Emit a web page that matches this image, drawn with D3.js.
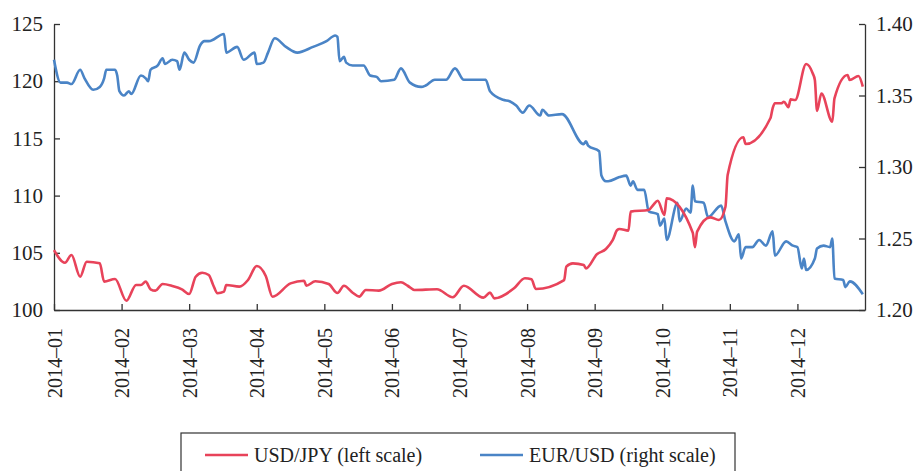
<!DOCTYPE html>
<html>
<head>
<meta charset="utf-8">
<title>USD/JPY and EUR/USD 2014</title>
<script src="https://cdn.jsdelivr.net/npm/d3@7"></script>
<style>
  body { margin: 0; background: #fff; }
  text { font-family: "Liberation Serif", "Times New Roman", serif; fill: #222; }
</style>
</head>
<body>
<script>
//////// data ////////
var monthLabels = ["2014\u201301","2014\u201302","2014\u201303","2014\u201304","2014\u201305","2014\u201306",
                   "2014\u201307","2014\u201308","2014\u201309","2014\u201310","2014\u201311","2014\u201312"];

var leftTicks = [100, 105, 110, 115, 120, 125];
var rightTicks = [1.20, 1.25, 1.30, 1.35, 1.40];

// USD/JPY, left scale
var jpyDates = ["2014-01-01","2014-01-06","2014-01-09","2014-01-13","2014-01-16","2014-01-22","2014-01-24","2014-01-29",
  "2014-02-03","2014-02-07","2014-02-09","2014-02-11","2014-02-13","2014-02-15","2014-02-18","2014-02-22","2014-02-26",
  "2014-03-01","2014-03-04","2014-03-07","2014-03-10","2014-03-12","2014-03-14","2014-03-17","2014-03-18","2014-03-24","2014-03-28",
  "2014-04-01","2014-04-05","2014-04-08","2014-04-16","2014-04-22","2014-04-23","2014-04-27",
  "2014-05-03","2014-05-07","2014-05-10","2014-05-14","2014-05-17","2014-05-20","2014-05-26",
  "2014-06-01","2014-06-05","2014-06-08","2014-06-11","2014-06-21","2014-06-28",
  "2014-07-03","2014-07-12","2014-07-15","2014-07-17","2014-07-26","2014-07-31",
  "2014-08-03","2014-08-05","2014-08-18","2014-08-19","2014-08-22","2014-08-27","2014-08-28",
  "2014-09-02","2014-09-06","2014-09-09","2014-09-11","2014-09-12","2014-09-16","2014-09-17","2014-09-25","2014-09-27","2014-09-29",
  "2014-10-02","2014-10-03","2014-10-15","2014-10-16","2014-10-17","2014-10-23","2014-10-27","2014-10-30","2014-10-31",
  "2014-11-07","2014-11-08","2014-11-19","2014-11-20","2014-11-21","2014-11-24","2014-11-25","2014-11-27","2014-11-28","2014-11-30",
  "2014-12-05","2014-12-08","2014-12-09","2014-12-10","2014-12-12","2014-12-17","2014-12-18","2014-12-24","2014-12-25","2014-12-29","2014-12-31"];
var jpyValues = [105.24,104.13,104.81,102.91,104.22,104.08,102.48,102.71,
  100.81,102.19,102.19,102.48,101.81,101.69,102.27,102.10,101.81,
  101.40,102.91,103.26,103.06,102.19,101.46,101.60,102.19,102.04,102.62,
  103.85,102.97,101.16,102.33,102.56,102.12,102.51,
  102.27,101.48,102.12,101.51,101.17,101.75,101.69,
  102.27,102.42,102.12,101.75,101.81,101.11,
  102.12,101.08,101.52,101.02,101.90,102.77,
  102.68,101.84,102.62,103.79,104.08,103.93,103.64,
  104.87,105.33,106.10,106.99,107.08,106.94,108.60,108.74,109.18,109.55,
  108.30,109.76,106.76,105.48,106.85,108.10,107.87,109.03,111.80,
  115.10,114.51,116.76,117.63,118.07,118.07,118.21,117.72,118.41,118.36,
  121.50,120.69,120.10,117.41,118.93,116.46,118.50,120.54,120.10,120.45,119.52];

// EUR/USD, right scale
var eurDates = ["2014-01-01","2014-01-04","2014-01-07","2014-01-09","2014-01-13","2014-01-15","2014-01-19","2014-01-22","2014-01-24","2014-01-25","2014-01-29","2014-01-30","2014-01-31",
  "2014-02-02","2014-02-04","2014-02-05","2014-02-09","2014-02-11","2014-02-12","2014-02-13","2014-02-16","2014-02-18","2014-02-19","2014-02-22","2014-02-24","2014-02-25","2014-02-27",
  "2014-03-01","2014-03-03","2014-03-06","2014-03-08","2014-03-10","2014-03-17","2014-03-18","2014-03-23","2014-03-26","2014-03-31",
  "2014-04-01","2014-04-04","2014-04-06","2014-04-09","2014-04-14","2014-04-19","2014-04-26",
  "2014-05-02","2014-05-06","2014-05-07","2014-05-08","2014-05-10","2014-05-11","2014-05-14","2014-05-19","2014-05-22","2014-05-25","2014-05-27",
  "2014-06-02","2014-06-05","2014-06-09","2014-06-14","2014-06-16","2014-06-20","2014-06-25","2014-06-29",
  "2014-07-03","2014-07-13","2014-07-15","2014-07-21","2014-07-24","2014-07-27","2014-07-30",
  "2014-08-02","2014-08-07","2014-08-08","2014-08-11","2014-08-17","2014-08-27","2014-08-28","2014-08-29",
  "2014-09-03","2014-09-04","2014-09-06","2014-09-07","2014-09-12","2014-09-15","2014-09-17","2014-09-18","2014-09-20","2014-09-23","2014-09-25","2014-09-29","2014-09-30",
  "2014-10-02","2014-10-03","2014-10-08","2014-10-09","2014-10-12","2014-10-14","2014-10-15","2014-10-16","2014-10-20","2014-10-22","2014-10-28","2014-10-30",
  "2014-11-03","2014-11-05","2014-11-06","2014-11-08","2014-11-11","2014-11-14","2014-11-17","2014-11-20","2014-11-21","2014-11-26","2014-11-29",
  "2014-12-01","2014-12-03","2014-12-04","2014-12-05","2014-12-09","2014-12-10","2014-12-13","2014-12-16","2014-12-17","2014-12-18","2014-12-22","2014-12-23","2014-12-25","2014-12-31"];
var eurValues = [1.375,1.359,1.359,1.358,1.368,1.362,1.354,1.356,1.362,1.368,1.368,1.364,1.353,
  1.350,1.353,1.351,1.364,1.362,1.360,1.368,1.371,1.376,1.372,1.375,1.374,1.368,1.380,
  1.375,1.373,1.385,1.388,1.388,1.393,1.380,1.384,1.375,1.380,
  1.372,1.373,1.380,1.390,1.384,1.380,1.384,
  1.388,1.392,1.391,1.374,1.377,1.373,1.371,1.371,1.364,1.363,1.360,
  1.361,1.369,1.359,1.356,1.357,1.361,1.361,1.369,
  1.361,1.361,1.353,1.347,1.346,1.343,1.338,
  1.343,1.336,1.340,1.336,1.337,1.316,1.318,1.315,
  1.311,1.294,1.290,1.290,1.293,1.294,1.287,1.290,1.284,1.284,1.269,1.267,1.259,
  1.264,1.249,1.275,1.262,1.271,1.268,1.287,1.276,1.275,1.265,1.273,1.262,
  1.248,1.253,1.236,1.244,1.244,1.249,1.245,1.255,1.238,1.248,1.245,
  1.244,1.229,1.236,1.228,1.236,1.243,1.245,1.244,1.250,1.222,1.221,1.216,1.220,1.211];

//////// layout ////////
var W = 913, H = 471;
var plotLeft = 54, plotRight = 865, plotTop = 24, plotBottom = 310;
var red = "#e8435a", blue = "#4a84c6";

var svg = d3.select("body").append("svg")
    .attr("width", W)
    .attr("height", H);

// dates -> month position (months are drawn evenly spaced)
var parse = d3.timeParse("%Y-%m-%d");
function monthPos(s) {
  var d = parse(s);
  var m = d.getMonth();
  var days = new Date(d.getFullYear(), m + 1, 0).getDate();
  return m + (d.getDate() - 1) / days;
}

var xScale = d3.scaleLinear().domain([0, 12]).range([plotLeft, plotRight]);
var yLeft = d3.scaleLinear().domain([100, 125]).range([plotBottom, plotTop]);
var yRight = d3.scaleLinear().domain([1.20, 1.40]).range([plotBottom, plotTop]);

//////// axes ////////
var xAxis = d3.axisBottom(xScale)
    .tickValues(d3.range(0, 12))
    .tickSize(-6)
    .tickSizeOuter(0)
    .tickFormat(function(d) { return monthLabels[d]; });

var gx = svg.append("g")
    .attr("transform", "translate(0," + plotBottom + ")")
    .call(xAxis);
gx.selectAll("text")
    .attr("transform", "rotate(-90)")
    .attr("text-anchor", "end")
    .attr("x", -18)
    .attr("y", 0)
    .attr("dy", "0.35em")
    .style("font-size", "20px");

var gl = svg.append("g")
    .attr("transform", "translate(" + plotLeft + ",0)")
    .call(d3.axisLeft(yLeft).tickValues(leftTicks).tickSize(-6).tickSizeOuter(0).tickPadding(11));
gl.selectAll("text").style("font-size", "21px");

var gr = svg.append("g")
    .attr("transform", "translate(" + plotRight + ",0)")
    .call(d3.axisRight(yRight).tickValues(rightTicks).tickSize(-6).tickSizeOuter(0).tickPadding(11)
      .tickFormat(d3.format(".2f")));
gr.selectAll("text").style("font-size", "21px");

svg.selectAll(".domain").attr("stroke", "#333").attr("stroke-width", 1.3);
svg.selectAll(".tick line").attr("stroke", "#333").attr("stroke-width", 1.3);
svg.selectAll(".tick text").attr("fill", "#222").style("font-family", "'Liberation Serif', serif");

//////// lines ////////
var jpy = jpyDates.map(function(d, i) { return { x: monthPos(d), v: jpyValues[i] }; });
var eur = eurDates.map(function(d, i) { return { x: monthPos(d), v: eurValues[i] }; });

var lineL = d3.line()
    .x(function(d) { return xScale(d.x); })
    .y(function(d) { return yLeft(d.v); })
    .curve(d3.curveMonotoneX);
var lineR = d3.line()
    .x(function(d) { return xScale(d.x); })
    .y(function(d) { return yRight(d.v); })
    .curve(d3.curveMonotoneX);

svg.append("path").datum(eur)
    .attr("d", lineR)
    .attr("fill", "none")
    .attr("stroke", blue)
    .attr("stroke-width", 2.6)
    .attr("stroke-linejoin", "round");

svg.append("path").datum(jpy)
    .attr("d", lineL)
    .attr("fill", "none")
    .attr("stroke", red)
    .attr("stroke-width", 2.6)
    .attr("stroke-linejoin", "round");

//////// legend ////////
var legend = svg.append("g");
legend.append("rect")
    .attr("x", 181).attr("y", 433)
    .attr("width", 554).attr("height", 60)
    .attr("fill", "none")
    .attr("stroke", "#333")
    .attr("stroke-width", 1.2);

var items = [
  { label: "USD/JPY (left scale)", color: red, x: 205 },
  { label: "EUR/USD (right scale)", color: blue, x: 480 }
];
items.forEach(function(it) {
  legend.append("line")
      .attr("x1", it.x).attr("x2", it.x + 43)
      .attr("y1", 455).attr("y2", 455)
      .attr("stroke", it.color)
      .attr("stroke-width", 2.6);
  legend.append("text")
      .attr("x", it.x + 49)
      .attr("y", 462)
      .style("font-size", "20px")
      .text(it.label);
});
</script>
</body>
</html>
